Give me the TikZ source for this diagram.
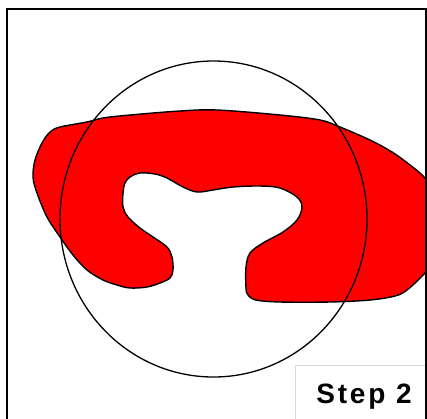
\documentclass[tikz,border=0pt]{standalone}
\usepackage{fontspec}
\usetikzlibrary{shapes.geometric}
\newfontfamily\stepfont[LetterSpace=10]{Liberation Sans}
\begin{document}
\begin{tikzpicture}[x=1pt,y=-1pt,
  blob/.style={fill=red,draw=black,line width=1.4pt,line join=round},
  ring/.style={draw=black,line width=1.3pt},
  frame/.style={draw=black,line width=2pt},
  label box/.style={draw=black!15,fill=white,line width=0.8pt},
  steplabel/.style={font=\stepfont\fontsize{28}{30}\selectfont\bfseries,anchor=base,inner sep=0pt}]
\useasboundingbox (0,0) rectangle (427,418);
\begin{scope}
\clip (7,9) rectangle (426,430);
\draw[blob] plot[smooth cycle,tension=0.55] coordinates {
 (50,132) (60,127) (87,122) (103,118) (130,115) (180,111) (217,110) (280,115) (320,120)
 (340,127) (370,140) (392,152) (410,165) (424,177) (436,195) (440,225)
 (436,258) (424,274) (407,290) (395,296) (370,300) (330,302) (280,302) (256,300)
 (248,295) (246,288) (246,267) (250,253) (263,243) (283,232) (297,220) (302,207)
 (297,197) (280,188) (260,186) (233,187) (213,190) (197,192) (183,187) (167,178)
 (155,174) (140,173) (130,177) (125,183) (123,193) (123,207) (128,217) (140,228)
 (153,237) (167,247) (172,257) (173,270) (170,278) (160,283) (147,287) (130,288)
 (117,285) (103,280) (87,270) (73,255) (60,237) (47,217) (37,193) (33,177) (35,160)
 (42,143)};
\end{scope}
\node[ring,ellipse,minimum width=307pt,minimum height=316pt,inner sep=0pt] (c) at (213.5,219) {};
\path[label box] (295,365) rectangle (440,440);
\node[steplabel] (s) at (364,403) {Step 2};
\draw[frame] (7,425) -- (7,9) -- (426,9) -- (426,425);
\end{tikzpicture}
\end{document}
